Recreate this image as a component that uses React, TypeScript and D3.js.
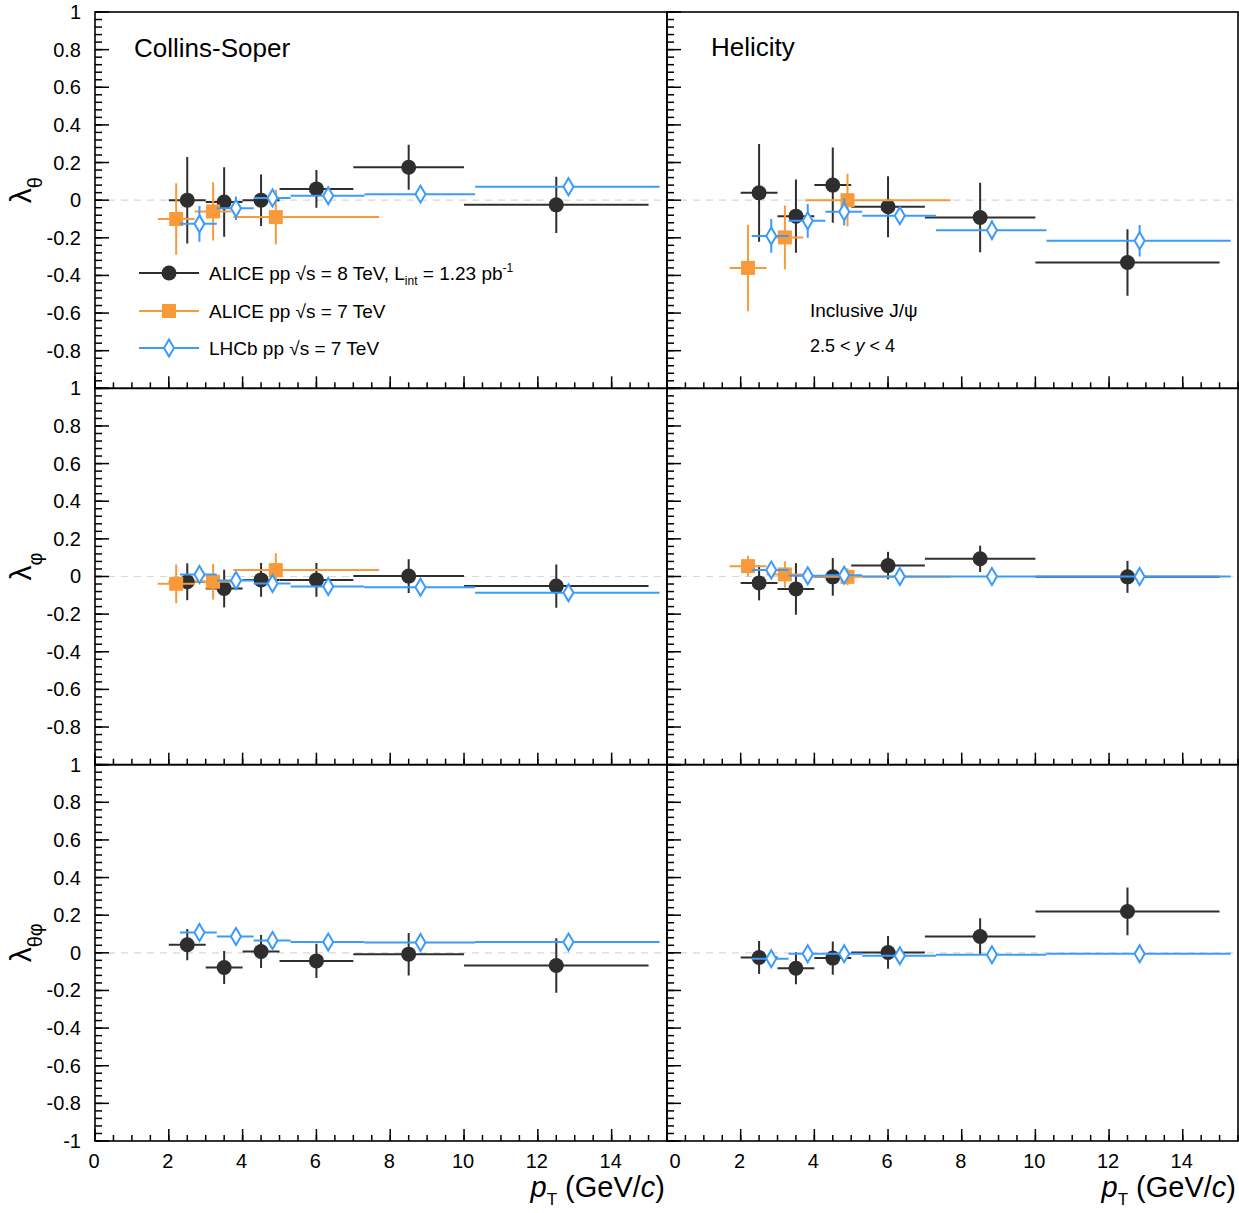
import React from 'react';
import * as d3 from 'd3';

// ---------- data ----------
const alice8Pt = [2.5, 3.5, 4.5, 6, 8.5, 12.5];
const alice8Lo = [2, 3, 4, 5, 7, 10];
const alice8Hi = [3, 4, 5, 7, 10, 15];
const alice7Pt = [2.2, 3.2, 4.9];
const alice7Lo = [1.7, 2.7, 3.75];
const alice7Hi = [2.7, 3.7, 7.7];
const lhcbPt = [2.83, 3.82, 4.81, 6.32, 8.82, 12.83];
const lhcbLo = [2.3, 3.3, 4.3, 5.3, 7.3, 10.3];
const lhcbHi = [3.3, 4.3, 5.3, 7.3, 10.3, 15.3];

// Collins-Soper lambda_theta
const csThetaA8 = [0.0, -0.01, 0.0, 0.06, 0.175, -0.025];
const csThetaA8Err = [0.23, 0.185, 0.137, 0.1, 0.12, 0.15];
const csThetaA7 = [-0.1, -0.06, -0.09];
const csThetaA7Err = [0.19, 0.155, 0.145];
const csThetaLHCb = [-0.126, -0.043, 0.011, 0.023, 0.032, 0.071];
const csThetaLHCbErr = [0.095, 0.062, 0.045, 0.02, 0.018, 0.045];

// Helicity lambda_theta
const hxThetaA8 = [0.039, -0.085, 0.08, -0.035, -0.092, -0.331];
const hxThetaA8Err = [0.26, 0.195, 0.2, 0.162, 0.185, 0.177];
const hxThetaA7 = [-0.36, -0.198, 0.0];
const hxThetaA7Err = [0.23, 0.17, 0.14];
const hxThetaLHCb = [-0.19, -0.11, -0.062, -0.083, -0.16, -0.216];
const hxThetaLHCbErr = [0.09, 0.09, 0.073, 0.038, 0.053, 0.084];

// Collins-Soper lambda_phi
const csPhiA8 = [-0.028, -0.064, -0.018, -0.018, 0.002, -0.051];
const csPhiA8Err = [0.098, 0.1, 0.09, 0.09, 0.09, 0.115];
const csPhiA7 = [-0.039, -0.028, 0.034];
const csPhiA7Err = [0.103, 0.095, 0.09];
const csPhiLHCb = [0.011, -0.021, -0.037, -0.053, -0.057, -0.087];
const csPhiLHCbErr = [0.045, 0.04, 0.03, 0.02, 0.02, 0.02];

// Helicity lambda_phi
const hxPhiA8 = [-0.034, -0.066, -0.002, 0.058, 0.094, -0.002];
const hxPhiA8Err = [0.093, 0.137, 0.1, 0.073, 0.07, 0.085];
const hxPhiA7 = [0.055, 0.011, -0.002];
const hxPhiA7Err = [0.055, 0.07, 0.045];
const hxPhiLHCb = [0.034, 0.004, 0.007, 0.0, 0.0, 0.0];
const hxPhiLHCbErr = [0.04, 0.03, 0.03, 0.02, 0.02, 0.02];

// Collins-Soper lambda_theta_phi
const csTPA8 = [0.043, -0.078, 0.007, -0.043, -0.007, -0.067];
const csTPA8Err = [0.083, 0.088, 0.088, 0.091, 0.113, 0.145];
const csTPLHCb = [0.108, 0.087, 0.065, 0.057, 0.055, 0.057];
const csTPLHCbErr = [0.045, 0.03, 0.025, 0.02, 0.02, 0.02];

// Helicity lambda_theta_phi
const hxTPA8 = [-0.025, -0.082, -0.028, 0.002, 0.087, 0.22];
const hxTPA8Err = [0.088, 0.085, 0.088, 0.087, 0.097, 0.127];
const hxTPLHCb = [-0.032, -0.005, -0.005, -0.016, -0.01, -0.005];
const hxTPLHCbErr = [0.03, 0.03, 0.025, 0.02, 0.02, 0.02];

const yMajor = [-1, -0.8, -0.6, -0.4, -0.2, 0, 0.2, 0.4, 0.6, 0.8, 1];
const xMajor = [0, 2, 4, 6, 8, 10, 12, 14];

// ---------- style ----------
const FONT = "'Liberation Sans', Arial, Helvetica, sans-serif";
const C_BLACK = '#2e2e2e';
const C_ORANGE = '#f99a3a';
const C_BLUE = '#3b9bfb';

const COLS = [
  { x0: 95, x1: 667 },
  { x0: 667, x1: 1238 },
];
const ROW_TOP = 12;
const ROW_H = 376.33;

type Series = { pt: number[]; lo: number[]; hi: number[]; val: number[]; err: number[] };

function mk(pt: number[], lo: number[], hi: number[], val: number[], err: number[]): Series {
  return { pt, lo, hi, val, err };
}

const panels = [
  { row: 0, col: 0, a8: mk(alice8Pt, alice8Lo, alice8Hi, csThetaA8, csThetaA8Err), a7: mk(alice7Pt, alice7Lo, alice7Hi, csThetaA7, csThetaA7Err), lb: mk(lhcbPt, lhcbLo, lhcbHi, csThetaLHCb, csThetaLHCbErr) },
  { row: 0, col: 1, a8: mk(alice8Pt, alice8Lo, alice8Hi, hxThetaA8, hxThetaA8Err), a7: mk(alice7Pt, alice7Lo, alice7Hi, hxThetaA7, hxThetaA7Err), lb: mk(lhcbPt, lhcbLo, lhcbHi, hxThetaLHCb, hxThetaLHCbErr) },
  { row: 1, col: 0, a8: mk(alice8Pt, alice8Lo, alice8Hi, csPhiA8, csPhiA8Err), a7: mk(alice7Pt, alice7Lo, alice7Hi, csPhiA7, csPhiA7Err), lb: mk(lhcbPt, lhcbLo, lhcbHi, csPhiLHCb, csPhiLHCbErr) },
  { row: 1, col: 1, a8: mk(alice8Pt, alice8Lo, alice8Hi, hxPhiA8, hxPhiA8Err), a7: mk(alice7Pt, alice7Lo, alice7Hi, hxPhiA7, hxPhiA7Err), lb: mk(lhcbPt, lhcbLo, lhcbHi, hxPhiLHCb, hxPhiLHCbErr) },
  { row: 2, col: 0, a8: mk(alice8Pt, alice8Lo, alice8Hi, csTPA8, csTPA8Err), a7: null, lb: mk(lhcbPt, lhcbLo, lhcbHi, csTPLHCb, csTPLHCbErr) },
  { row: 2, col: 1, a8: mk(alice8Pt, alice8Lo, alice8Hi, hxTPA8, hxTPA8Err), a7: null, lb: mk(lhcbPt, lhcbLo, lhcbHi, hxTPLHCb, hxTPLHCbErr) },
];

function xScale(col: number) {
  return d3.scaleLinear().domain([0, 15.5]).range([COLS[col].x0, COLS[col].x1]);
}
function yScale(row: number) {
  const top = ROW_TOP + row * ROW_H;
  return d3.scaleLinear().domain([-1, 1]).range([top + ROW_H, top]);
}

function Circle({ cx, cy }: { cx: number; cy: number }) {
  return <circle cx={cx} cy={cy} r={7.5} fill={C_BLACK} />;
}
function Square({ cx, cy }: { cx: number; cy: number }) {
  return <rect x={cx - 7} y={cy - 7} width={14} height={14} fill={C_ORANGE} />;
}
function Diamond({ cx, cy }: { cx: number; cy: number }) {
  const p = d3.path();
  p.moveTo(cx, cy - 8.5);
  p.lineTo(cx + 5, cy);
  p.lineTo(cx, cy + 8.5);
  p.lineTo(cx - 5, cy);
  p.closePath();
  return <path d={p.toString()} fill="#fff" stroke={C_BLUE} strokeWidth={2} />;
}

function Graph({ s, x, y, color, Marker }: { s: Series; x: any; y: any; color: string; Marker: any }) {
  return (
    <g>
      {s.pt.map((pt, i) => (
        <g key={i}>
          <line x1={x(s.lo[i])} x2={x(s.hi[i])} y1={y(s.val[i])} y2={y(s.val[i])} stroke={color} strokeWidth={2} />
          <line x1={x(pt)} x2={x(pt)} y1={y(s.val[i] - s.err[i])} y2={y(s.val[i] + s.err[i])} stroke={color} strokeWidth={2} />
          <Marker cx={x(pt)} cy={y(s.val[i])} />
        </g>
      ))}
    </g>
  );
}

function Panel({ p }: { p: any }) {
  const x = xScale(p.col);
  const y = yScale(p.row);
  const [x0, x1] = x.range();
  const [yb, yt] = y.range();
  const yMinor = d3.range(-25, 26).map((i) => i * 0.04);
  const xMinor = d3.range(0, 32).map((i) => i * 0.5);
  const id = `clip-${p.row}-${p.col}`;
  return (
    <g>
      <defs>
        <clipPath id={id}>
          <rect x={x0} y={yt} width={x1 - x0} height={yb - yt} />
        </clipPath>
      </defs>
      <line x1={x0} x2={x1} y1={y(0)} y2={y(0)} stroke="#d8d8d8" strokeWidth={1.2} strokeDasharray="7,6" />
      <g clipPath={`url(#${id})`}>
        <Graph s={p.a8} x={x} y={y} color={C_BLACK} Marker={Circle} />
        {p.a7 && <Graph s={p.a7} x={x} y={y} color={C_ORANGE} Marker={Square} />}
        <Graph s={p.lb} x={x} y={y} color={C_BLUE} Marker={Diamond} />
      </g>
      {yMinor.map((v, i) => (
        <line key={'ym' + i} x1={x0} x2={x0 + 7} y1={y(v)} y2={y(v)} stroke="#000" strokeWidth={1.5} />
      ))}
      {yMajor.map((v, i) => (
        <line key={'yM' + i} x1={x0} x2={x0 + 14} y1={y(v)} y2={y(v)} stroke="#000" strokeWidth={1.5} />
      ))}
      {xMinor.map((v, i) => (
        <line key={'xm' + i} x1={x(v)} x2={x(v)} y1={yb} y2={yb - 6} stroke="#000" strokeWidth={1.5} />
      ))}
      {xMajor.map((v, i) => (
        <line key={'xM' + i} x1={x(v)} x2={x(v)} y1={yb} y2={yb - 12} stroke="#000" strokeWidth={1.5} />
      ))}
      <rect x={x0} y={yt} width={x1 - x0} height={yb - yt} fill="none" stroke="#000" strokeWidth={1.6} />
      {p.col === 0 &&
        yMajor
          .filter((v) => p.row === 2 || v > -0.99)
          .map((v, i) => (
            <text key={'yl' + i} x={81} y={y(v) + 7} textAnchor="end" fontSize={20} fontFamily={FONT} fill="#000">
              {String(+v.toFixed(1))}
            </text>
          ))}
      {p.row === 2 &&
        xMajor.map((v, i) => (
          <text key={'xl' + i} x={x(v) + (p.col === 1 && v === 0 ? 8 : -1)} y={1168} textAnchor="middle" fontSize={20} fontFamily={FONT} fill="#000">
            {v}
          </text>
        ))}
    </g>
  );
}

function YTitle({ row, sub }: { row: number; sub: string }) {
  const y = yScale(row);
  const c = (y.range()[0] + y.range()[1]) / 2;
  return (
    <text transform={`translate(31, ${c - 10}) rotate(-90)`} textAnchor="middle" fontFamily={FONT} fontSize={30} fill="#000">
      λ
      <tspan fontSize={20} dy={11}>{sub}</tspan>
    </text>
  );
}

function XTitle({ col }: { col: number }) {
  const xr = COLS[col].x1 - 2;
  return (
    <text x={xr} y={1197} textAnchor="end" fontFamily={FONT} fontSize={29} fill="#000">
      <tspan fontStyle="italic">p</tspan>
      <tspan fontSize={17} dy={8}>T</tspan>
      <tspan dy={-8}> (GeV/</tspan>
      <tspan fontStyle="italic">c</tspan>
      <tspan>)</tspan>
    </text>
  );
}

function Legend() {
  const rows = [
    { y: 273, color: C_BLACK, Marker: Circle },
    { y: 311, color: C_ORANGE, Marker: Square },
    { y: 348, color: C_BLUE, Marker: Diamond },
  ];
  return (
    <g fontFamily={FONT} fontSize={19} fill="#000">
      {rows.map((r, i) => (
        <g key={i}>
          <line x1={139} x2={199} y1={r.y} y2={r.y} stroke={r.color} strokeWidth={2} />
          <r.Marker cx={169} cy={r.y} />
        </g>
      ))}
      <text x={209} y={280}>
        ALICE pp √s = 8 TeV, L<tspan fontSize={12} dy={5}>int</tspan>
        <tspan dy={-5}> = 1.23 pb</tspan>
        <tspan fontSize={12} dy={-8}>-1</tspan>
      </text>
      <text x={209} y={318}>ALICE pp √s = 7 TeV</text>
      <text x={209} y={355}>LHCb pp √s = 7 TeV</text>
    </g>
  );
}

export default function App() {
  return (
    <svg width={1239} height={1213} style={{ position: 'absolute', left: 0, top: 0, background: '#fff' }} fontFamily={FONT}>
      <rect x={0} y={0} width={1239} height={1213} fill="#fff" />
      {panels.map((p, i) => (
        <Panel key={i} p={p} />
      ))}
      <Legend />
      <text x={134} y={57} fontSize={26} fontFamily={FONT}>Collins-Soper</text>
      <text x={711} y={56} fontSize={26} fontFamily={FONT}>Helicity</text>
      <text x={810} y={317} fontSize={19} fontFamily={FONT}>Inclusive J/ψ</text>
      <text x={810} y={352} fontSize={18} fontFamily={FONT}>
        2.5 &lt; <tspan fontStyle="italic">y</tspan> &lt; 4
      </text>
      <YTitle row={0} sub="θ" />
      <YTitle row={1} sub="φ" />
      <YTitle row={2} sub="θφ" />
      <XTitle col={0} />
      <XTitle col={1} />
    </svg>
  );
}
